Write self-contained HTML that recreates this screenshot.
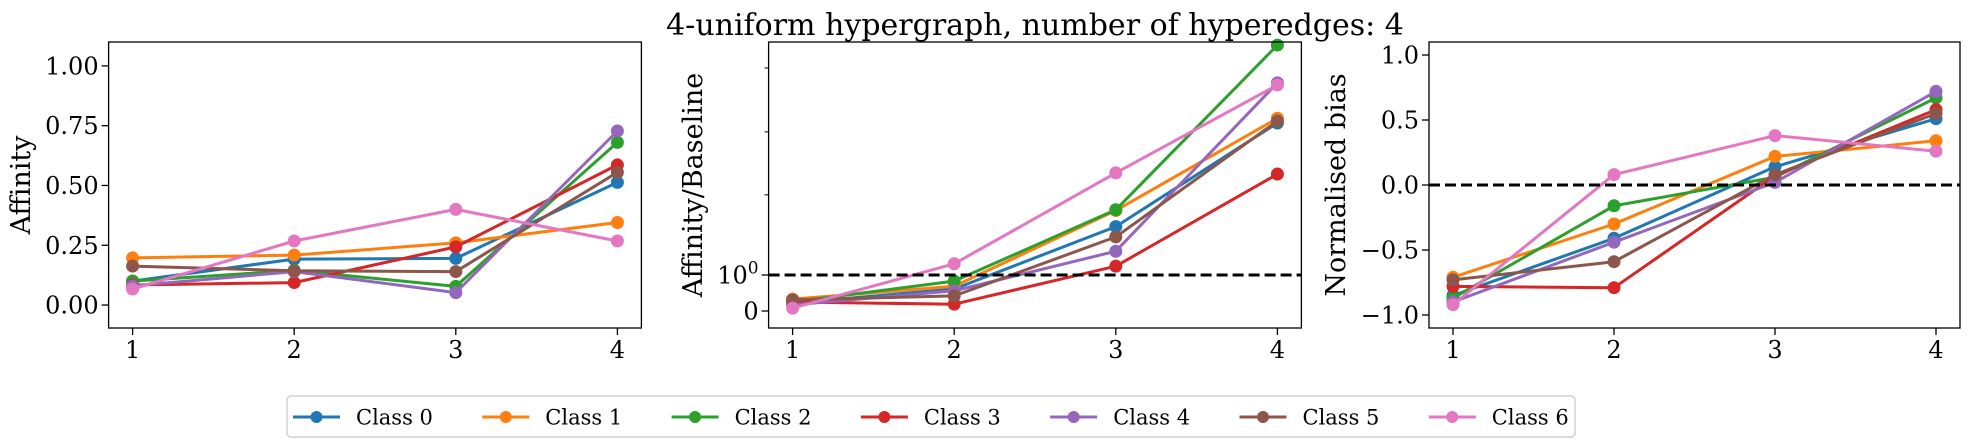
<!DOCTYPE html>
<html><head><meta charset="utf-8"><style>
html,body{margin:0;padding:0;background:#fff;}
svg{display:block;font-family:"DejaVu Serif","Liberation Serif",serif;}
</style></head><body>
<svg id="fig" width="1972" height="446" viewBox="0 0 1972 446" xmlns="http://www.w3.org/2000/svg">
<text x="1035" y="35" font-size="30" text-anchor="middle" fill="#000">4-uniform hypergraph, number of hyperedges: 4</text>
</svg>
<script>
const xCats = [1, 2, 3, 4];
const classNames = ["Class 0","Class 1","Class 2","Class 3","Class 4","Class 5","Class 6"];
const colors = ["#1f77b4","#ff7f0e","#2ca02c","#d62728","#9467bd","#8c564b","#e377c2"];
// Panel 1: Affinity
const affinity0 = [0.10, 0.192, 0.195, 0.513];
const affinity1 = [0.197, 0.209, 0.26, 0.345];
const affinity2 = [0.10, 0.145, 0.078, 0.68];
const affinity3 = [0.084, 0.094, 0.243, 0.586];
const affinity4 = [0.08, 0.14, 0.052, 0.728];
const affinity5 = [0.163, 0.143, 0.14, 0.555];
const affinity6 = [0.067, 0.268, 0.40, 0.268];
const affinityTicks = [0.00, 0.25, 0.50, 0.75, 1.00];
const affinityTickLabels = ["0.00","0.25","0.50","0.75","1.00"];
// Panel 2: Affinity/Baseline (symlog)
const ratio0 = [0.22, 0.61, 1.45, 3.21];
const ratio1 = [0.33, 0.69, 1.64, 3.33];
const ratio2 = [0.25, 0.83, 1.65, 5.84];
const ratio3 = [0.25, 0.19, 1.07, 2.17];
const ratio4 = [0.17, 0.56, 1.20, 4.37];
const ratio5 = [0.31, 0.42, 1.34, 3.26];
const ratio6 = [0.08, 1.09, 2.19, 4.30];
const ratioTicks = [0, 1];
const ratioMinorTicks = [1.85, 3.0, 4.9];
// Panel 3: Normalised bias
const bias0 = [-0.85, -0.41, 0.14, 0.51];
const bias1 = [-0.71, -0.30, 0.22, 0.34];
const bias2 = [-0.87, -0.16, 0.06, 0.67];
const bias3 = [-0.78, -0.79, 0.07, 0.58];
const bias4 = [-0.90, -0.44, 0.02, 0.72];
const bias5 = [-0.73, -0.59, 0.08, 0.55];
const bias6 = [-0.92, 0.08, 0.38, 0.26];
const biasTicks = [-1.0, -0.5, 0.0, 0.5, 1.0];
const biasTickLabels = ["\u22121.0","\u22120.5","0.0","0.5","1.0"];

const NS = "http://www.w3.org/2000/svg";
const svg = document.getElementById('fig');
function mk(tag, attrs, parent){
  const e = document.createElementNS(NS, tag);
  for (const k in attrs) e.setAttribute(k, attrs[k]);
  (parent||svg).appendChild(e);
  return e;
}
const TOP = 42, BOT = 328;
function xScaleFor(left, right){
  return v => left + 24 + (v - 1) * (right - left - 48) / 3;
}
function linY(d0, d1){ return v => BOT - (v - d0) / (d1 - d0) * (BOT - TOP); }
function symY(v){
  if (Math.abs(v) <= 1) return 311 - v * 36;
  return 275 - 300 * Math.log10(v);
}

function panel(idx, left, right, yFn, series, ylabel, ylabelX, yTicks, yTickLabels, minorTicks, dashY){
  const g = mk('g', {});
  
  
  const xs = xScaleFor(left, right);
  // lines
  series.forEach((vals, s) => {
    const pts = vals.map((v,i) => xs(xCats[i]).toFixed(1) + ',' + yFn(v).toFixed(1)).join(' ');
    const pl = mk('polyline', {points: pts, fill:'none', stroke: colors[s], 'stroke-width': 3, 'stroke-linejoin':'round'}, g);
    
    
    vals.forEach((v,i) => {
      const c = mk('circle', {cx: xs(xCats[i]), cy: yFn(v), r: 6.5, fill: colors[s]}, g);
      
      
    });
  });
  if (dashY !== null){
    const d = mk('line', {x1:left, x2:right, y1:yFn(dashY), y2:yFn(dashY), stroke:'#000', 'stroke-width':3, 'stroke-dasharray':'11,5'}, g);
    
    
  }
  const fr = mk('rect', {x:left, y:TOP, width:right-left, height:BOT-TOP, fill:'none', stroke:'#000', 'stroke-width':1.3}, g);
  
  
  // x ticks
  xCats.forEach(c => {
    const x = xs(c);
    mk('line', {x1:x, x2:x, y1:BOT, y2:BOT+7, stroke:'#000', 'stroke-width':1.3}, g);
    const t = mk('text', {x:x, y:BOT+30, 'font-size':24, 'text-anchor':'middle'}, g);
    t.textContent = c;
    
    
  });
  // y ticks
  yTicks.forEach((v,i) => {
    const y = yFn(v);
    mk('line', {x1:left-7, x2:left, y1:y, y2:y, stroke:'#000', 'stroke-width':1.3}, g);
    const lab = yTickLabels[i];
    const t = mk('text', {x:left-10, y:y+8.5, 'font-size':24, 'text-anchor':'end'}, g);
    if (lab === '10^0'){
      t.textContent = '10';
      const sup = mk('tspan', {'font-size':17, dy:-10}, t);
      sup.textContent = '0';
    } else t.textContent = lab;
    
    
  });
  minorTicks.forEach(v => {
    const y = yFn(v);
    mk('line', {x1:left-4, x2:left, y1:y, y2:y, stroke:'#000', 'stroke-width':1}, g);
  });
  const yl = mk('text', {x:ylabelX, y:(TOP+BOT)/2, 'font-size':27, 'text-anchor':'middle', transform:'rotate(-90 '+ylabelX+' '+((TOP+BOT)/2)+')'}, g);
  yl.textContent = ylabel;
  
  
}

panel(0, 108.6, 641.4, linY(-0.096, 1.1),
  [affinity0,affinity1,affinity2,affinity3,affinity4,affinity5,affinity6],
  'Affinity', 30, affinityTicks, affinityTickLabels, [], null);
panel(1, 768.6, 1301.4, symY,
  [ratio0,ratio1,ratio2,ratio3,ratio4,ratio5,ratio6],
  'Affinity/Baseline', 702, ratioTicks, ['0','10^0'], ratioMinorTicks, 1);
panel(2, 1429, 1960, linY(-1.1, 1.1),
  [bias0,bias1,bias2,bias3,bias4,bias5,bias6],
  'Normalised bias', 1345, biasTicks, biasTickLabels, [], 0);

// legend
const lg = mk('g', {});


mk('rect', {x:287, y:396, width:1288, height:41, rx:4, fill:'#fff', stroke:'#d0d0d0', 'stroke-width':1.5}, lg);
classNames.forEach((n, i) => {
  const x0 = 293 + i * 189.3;
  const e = mk('g', {}, lg);
  
  
  mk('line', {x1:x0, x2:x0+47, y1:417, y2:417, stroke:colors[i], 'stroke-width':3}, e);
  mk('circle', {cx:x0+23.5, cy:417, r:6, fill:colors[i]}, e);
  const t = mk('text', {x:x0+63, y:424.5, 'font-size':21}, e);
  t.textContent = n;
});
</script>
</body></html>
